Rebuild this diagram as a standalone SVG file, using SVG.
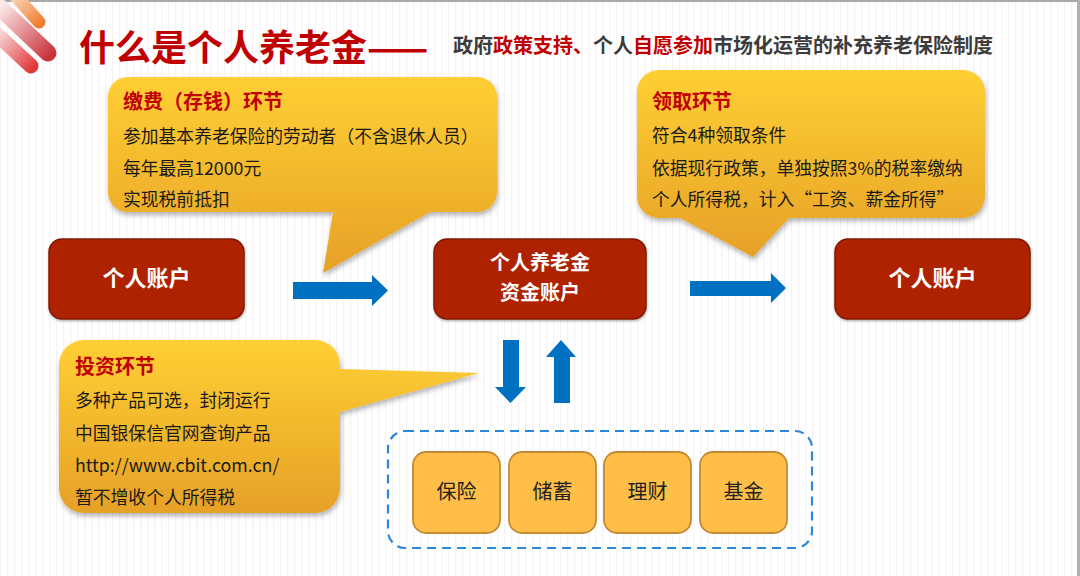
<svg xmlns="http://www.w3.org/2000/svg" width="1080" height="576" viewBox="0 0 1080 576">
<defs>
<pattern id="stripes" width="7" height="10" patternUnits="userSpaceOnUse">
<rect width="7" height="10" fill="#ffffff"/>
<rect x="0" width="1.2" height="10" fill="#f7f2f4"/>
</pattern>
<linearGradient id="callGrad" x1="0" y1="0" x2="0" y2="1">
<stop offset="0" stop-color="#FFCF33"/>
<stop offset="1" stop-color="#E6A128"/>
</linearGradient>
<linearGradient id="gOrange" gradientUnits="userSpaceOnUse" x1="10" y1="-8" x2="42" y2="25">
<stop offset="0" stop-color="#fde3d0"/>
<stop offset="1" stop-color="#ee7a2a"/>
</linearGradient>
<linearGradient id="gRed1" gradientUnits="userSpaceOnUse" x1="0" y1="8" x2="50" y2="56">
<stop offset="0" stop-color="#fbe7e7"/>
<stop offset="1" stop-color="#c8343a"/>
</linearGradient>
<linearGradient id="gRed2" gradientUnits="userSpaceOnUse" x1="-8" y1="30" x2="33" y2="68">
<stop offset="0" stop-color="#fdf0f0"/>
<stop offset="1" stop-color="#e0383a"/>
</linearGradient>
<filter id="shadow" x="-10%" y="-10%" width="125%" height="135%">
<feDropShadow dx="1" dy="3" stdDeviation="2.5" flood-color="#000" flood-opacity="0.3"/>
</filter>
<filter id="shadowS" x="-10%" y="-10%" width="125%" height="135%">
<feDropShadow dx="0.5" dy="1.5" stdDeviation="1.2" flood-color="#000" flood-opacity="0.3"/>
</filter>
<style>
text{font-family:"Noto Sans CJK SC","Noto Sans",sans-serif;}
.head{font-size:20px;font-weight:bold;fill:#C00000;}
.body{font-size:17.8px;fill:#1a1a1a;}
.nodeRed{fill:#AE2200;stroke:#841800;stroke-width:1.5;}
.nodeTxt{font-size:22px;font-weight:bold;fill:#ffffff;text-anchor:middle;}
.nodeTxt2{font-size:20px;font-weight:bold;fill:#ffffff;text-anchor:middle;}
.prod{fill:#FFBE48;stroke:#C48A35;stroke-width:1.8;}
.prodTxt{font-size:20px;fill:#222222;text-anchor:middle;}
.arrow{fill:#0070C0;}
.callout{fill:url(#callGrad);filter:url(#shadow);}
</style>
</defs>

<rect x="0" y="0" width="1080" height="576" fill="url(#stripes)"/>
<rect x="0" y="0" width="1080" height="2" fill="#a8a8a8"/>
<rect x="1077" y="0" width="3" height="576" fill="#b0b0b0"/>

<g id="decoration">
<line x1="-10" y1="28" x2="31" y2="66" stroke="url(#gRed2)" stroke-width="15" stroke-linecap="round"/>
<line x1="-2" y1="6" x2="48" y2="53" stroke="url(#gRed1)" stroke-width="17" stroke-linecap="round"/>
<line x1="12" y1="-8" x2="39" y2="22" stroke="url(#gOrange)" stroke-width="13" stroke-linecap="round"/>
</g>

<g id="title">
<text x="79" y="61" font-size="36" font-weight="bold" fill="#C00000">什么是个人养老金——</text>
<text x="453" y="53" font-size="20" font-weight="bold" fill="#3c3c3c">政府<tspan fill="#C00000">政策支持、</tspan>个人<tspan fill="#C00000">自愿参加</tspan>市场化运营的补充养老保险制度</text>
</g>

<g id="connectors">
<polygon class="arrow" points="293,282 372,282 372,275 388,290.5 372,306 372,299 293,299"/>
<polygon class="arrow" points="690,281 771,281 771,273 786,288 771,303 771,296 690,296"/>
<polygon class="arrow" points="503,340 519,340 519,387 526,387 510.5,403 495,387 503,387"/>
<polygon class="arrow" points="561,340 576,357 570,357 570,403 554,403 554,357 546,357"/>
</g>

<g id="callout-deposit">
<path class="callout" d="M128,77 H477 A20,20 0 0 1 497,97 V192 A20,20 0 0 1 477,212 H430 L323,273 L333,212 H128 A20,20 0 0 1 108,192 V97 A20,20 0 0 1 128,77 Z"/>
<text class="head" x="123" y="109">缴费（存钱）环节</text>
<text class="body" x="123" y="143">参加基本养老保险的劳动者（不含退休人员）</text>
<text class="body" x="123" y="175">每年最高12000元</text>
<text class="body" x="123" y="206">实现税前抵扣</text>
</g>

<g id="callout-withdraw">
<path class="callout" d="M659,70 H963 A22,22 0 0 1 985,92 V196 A22,22 0 0 1 963,218 H789 L753,257 L680,218 H659 A22,22 0 0 1 637,196 V92 A22,22 0 0 1 659,70 Z"/>
<text class="head" x="652" y="109">领取环节</text>
<text class="body" x="652" y="142">符合4种领取条件</text>
<text class="body" x="652" y="175">依据现行政策，单独按照3%的税率缴纳</text>
<text class="body" x="652" y="206">个人所得税，计入“工资、薪金所得”</text>
</g>

<g id="callout-invest">
<path class="callout" d="M84,340 H315 A25,25 0 0 1 340,365 V369 L479,373 L340,412 V488 A25,25 0 0 1 315,513 H84 A25,25 0 0 1 59,488 V365 A25,25 0 0 1 84,340 Z"/>
<text class="head" x="75" y="374">投资环节</text>
<text class="body" x="75" y="407">多种产品可选，封闭运行</text>
<text class="body" x="75" y="440">中国银保信官网查询产品</text>
<text class="body" x="75" y="472">http://www.cbit.com.cn/</text>
<text class="body" x="75" y="504">暂不增收个人所得税</text>
</g>

<g id="node-personal-account-left">
<rect class="nodeRed" x="49" y="239" width="195" height="80" rx="13" filter="url(#shadowS)"/>
<text class="nodeTxt" x="146.5" y="286">个人账户</text>
</g>

<g id="node-pension-fund-account">
<rect class="nodeRed" x="434" y="239" width="212" height="80" rx="13" filter="url(#shadowS)"/>
<text class="nodeTxt2" x="540" y="270">个人养老金</text>
<text class="nodeTxt2" x="540" y="299.5">资金账户</text>
</g>

<g id="node-personal-account-right">
<rect class="nodeRed" x="835" y="239" width="195" height="80" rx="13" filter="url(#shadowS)"/>
<text class="nodeTxt" x="932.5" y="286">个人账户</text>
</g>

<g id="products-group">
<rect x="388" y="431" width="424" height="117" rx="17" fill="none" stroke="#2E86D6" stroke-width="2.2" stroke-dasharray="9 6"/>
</g>

<g id="node-insurance">
<rect class="prod" x="413" y="452" width="87" height="81" rx="13"/>
<text class="prodTxt" x="456.5" y="499">保险</text>
</g>
<g id="node-savings">
<rect class="prod" x="509" y="452" width="87" height="81" rx="13"/>
<text class="prodTxt" x="552.5" y="499">储蓄</text>
</g>
<g id="node-wealth">
<rect class="prod" x="604" y="452" width="87" height="81" rx="13"/>
<text class="prodTxt" x="647.5" y="499">理财</text>
</g>
<g id="node-fund">
<rect class="prod" x="700" y="452" width="87" height="81" rx="13"/>
<text class="prodTxt" x="743.5" y="499">基金</text>
</g>
</svg>
